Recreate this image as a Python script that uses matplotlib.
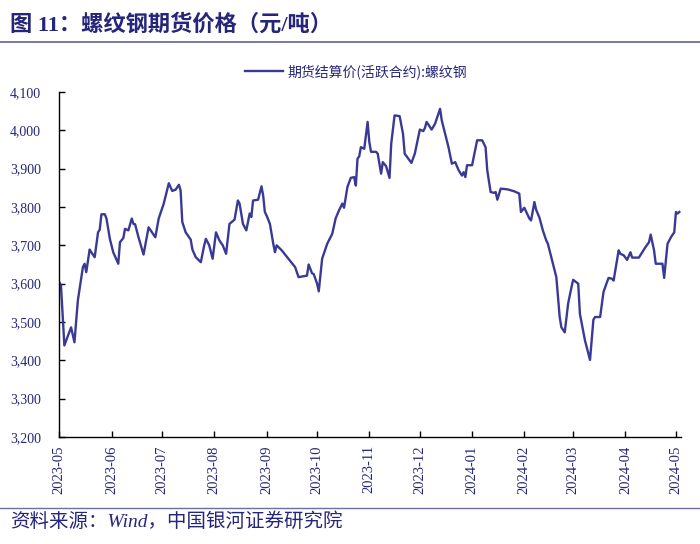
import matplotlib
matplotlib.use("Agg")
import matplotlib.pyplot as plt
import matplotlib.dates as mdates
import pandas as pd
from matplotlib.lines import Line2D

# ---- data ----
dates = [
    "2023-05-01", "2023-05-02", "2023-05-04", "2023-05-08", "2023-05-10", "2023-05-12",
    "2023-05-15", "2023-05-16", "2023-05-17", "2023-05-19", "2023-05-20", "2023-05-22",
    "2023-05-24", "2023-05-25", "2023-05-26", "2023-05-28", "2023-05-29", "2023-05-31",
    "2023-06-02", "2023-06-05", "2023-06-06", "2023-06-08", "2023-06-09", "2023-06-11",
    "2023-06-13", "2023-06-14", "2023-06-15", "2023-06-17", "2023-06-20", "2023-06-23",
    "2023-06-27", "2023-06-29", "2023-07-02", "2023-07-05", "2023-07-07", "2023-07-09",
    "2023-07-11", "2023-07-12", "2023-07-13", "2023-07-15", "2023-07-18", "2023-07-19",
    "2023-07-21", "2023-07-24", "2023-07-26", "2023-07-27", "2023-07-29", "2023-07-31",
    "2023-08-02", "2023-08-04", "2023-08-06", "2023-08-08", "2023-08-10", "2023-08-13",
    "2023-08-15", "2023-08-16", "2023-08-18", "2023-08-20", "2023-08-22", "2023-08-23",
    "2023-08-24", "2023-08-27", "2023-08-29", "2023-08-30", "2023-08-31", "2023-09-01",
    "2023-09-03", "2023-09-05", "2023-09-06", "2023-09-07", "2023-09-10", "2023-09-18",
    "2023-09-20", "2023-09-25", "2023-09-26", "2023-09-28", "2023-09-29", "2023-10-01",
    "2023-10-02", "2023-10-04", "2023-10-07", "2023-10-10", "2023-10-12", "2023-10-14",
    "2023-10-16", "2023-10-17", "2023-10-19", "2023-10-21", "2023-10-23", "2023-10-24",
    "2023-10-25", "2023-10-26", "2023-10-27", "2023-10-29", "2023-10-31", "2023-11-01",
    "2023-11-02", "2023-11-05", "2023-11-06", "2023-11-08", "2023-11-09", "2023-11-11",
    "2023-11-13", "2023-11-14", "2023-11-16", "2023-11-19", "2023-11-21", "2023-11-22",
    "2023-11-26", "2023-11-28", "2023-12-01", "2023-12-03", "2023-12-04", "2023-12-05",
    "2023-12-08", "2023-12-10", "2023-12-13", "2023-12-14", "2023-12-16", "2023-12-18",
    "2023-12-20", "2023-12-22", "2023-12-24", "2023-12-26", "2023-12-27", "2023-12-28",
    "2023-12-29", "2024-01-01", "2024-01-04", "2024-01-05", "2024-01-07", "2024-01-09",
    "2024-01-10", "2024-01-12", "2024-01-14", "2024-01-15", "2024-01-16", "2024-01-18",
    "2024-01-22", "2024-01-26", "2024-01-29", "2024-01-30", "2024-02-01", "2024-02-04",
    "2024-02-05", "2024-02-07", "2024-02-08", "2024-02-10", "2024-02-12", "2024-02-14",
    "2024-02-15", "2024-02-20", "2024-02-22", "2024-02-23", "2024-02-25", "2024-02-27",
    "2024-02-29", "2024-03-01", "2024-03-04", "2024-03-05", "2024-03-08", "2024-03-11",
    "2024-03-13", "2024-03-14", "2024-03-17", "2024-03-19", "2024-03-20", "2024-03-22",
    "2024-03-24", "2024-03-25", "2024-03-28", "2024-03-29", "2024-03-31", "2024-04-02",
    "2024-04-04", "2024-04-05", "2024-04-09", "2024-04-13", "2024-04-15", "2024-04-16",
    "2024-04-18", "2024-04-19", "2024-04-23", "2024-04-24", "2024-04-26", "2024-04-28",
    "2024-04-30", "2024-05-01", "2024-05-02", "2024-05-03",
]
prices = [
    3604, 3595, 3439, 3486, 3447, 3556,
    3643, 3652, 3630, 3689, 3682, 3669,
    3734, 3741, 3781, 3781, 3770, 3717,
    3682, 3652, 3708, 3719, 3743, 3739,
    3770, 3756, 3755, 3721, 3676, 3747,
    3721, 3770, 3809, 3862, 3842, 3845,
    3858, 3843, 3761, 3734, 3715, 3689,
    3669, 3656, 3700, 3717, 3700, 3665,
    3734, 3713, 3700, 3678, 3756, 3767,
    3817, 3809, 3756, 3739, 3783, 3774,
    3817, 3819, 3854, 3830, 3787, 3778,
    3756, 3704, 3682, 3700, 3687, 3643,
    3617, 3621, 3650, 3627, 3625, 3600,
    3580, 3665, 3704, 3730, 3770, 3791,
    3809, 3798, 3852, 3876, 3878, 3856,
    3926, 3932, 3956, 3952, 4022, 3970,
    3944, 3944, 3939, 3887, 3917, 3906,
    3876, 3965, 4039, 4037, 3991, 3939,
    3915, 3939, 4002, 3998, 4006, 4022,
    4002, 4017, 4056, 4026, 3991, 3956,
    3913, 3917, 3896, 3882, 3891, 3878,
    3909, 3909, 3974, 3974, 3974, 3956,
    3896, 3839, 3837, 3839, 3819, 3848,
    3846, 3841, 3835, 3787, 3798, 3770,
    3765, 3813, 3793, 3772, 3739, 3713,
    3704, 3617, 3513, 3486, 3473, 3548,
    3591, 3610, 3600, 3521, 3452, 3401,
    3506, 3513, 3513, 3578, 3591, 3615,
    3613, 3608, 3687, 3678, 3674, 3662,
    3682, 3668, 3668, 3696, 3708, 3728,
    3687, 3652, 3652, 3615, 3704, 3721,
    3734, 3787, 3783, 3787,
]
series_name = "期货结算价(活跃合约):螺纹钢"
title_text = "图 11：螺纹钢期货价格（元/吨）"
source_text = "资料来源：Wind，中国银河证券研究院"
y_ticks = [3200, 3300, 3400, 3500, 3600, 3700, 3800, 3900, 4000, 4100]

# ---- styling ----
NAVY = "#25257a"
LINE = "#3a3a96"
RULE = "#6e6e9c"
CJK = ["Noto Sans CJK SC", "DejaVu Sans"]
SERIF = ["Liberation Serif", "Noto Sans CJK SC"]

x = pd.to_datetime(dates)

fig = plt.figure(figsize=(7.0, 5.44), dpi=100)
ax = fig.add_axes([59.3 / 700, 1 - 437 / 544, (681 - 59.3) / 700, (437 - 92) / 544])

ax.plot(x, prices, color=LINE, lw=1.7, solid_joinstyle="round")

ax.set_ylim(3200, 4100)
ax.set_yticks(y_ticks)
ax.set_yticklabels([f"{v:,}" for v in y_ticks])
ax.set_xlim(pd.Timestamp("2023-05-01"), pd.Timestamp("2024-05-04"))
ax.xaxis.set_major_locator(mdates.MonthLocator())
ax.xaxis.set_major_formatter(mdates.DateFormatter("%Y-%m"))

for s in ["top", "right"]:
    ax.spines[s].set_visible(False)
for s in ["left", "bottom"]:
    ax.spines[s].set_color("black")
    ax.spines[s].set_linewidth(1.0)

ax.tick_params(axis="x", direction="in", length=4, width=1, color="black", pad=6,
               labelrotation=90, labelsize=10.5, labelcolor=NAVY)
ax.tick_params(axis="y", direction="in", length=4, width=1, color="black", pad=13,
               labelsize=10, labelcolor=NAVY)
for lab in ax.get_xticklabels() + ax.get_yticklabels():
    lab.set_family(SERIF)

# legend
handle = Line2D([], [], color=LINE, lw=1.7)
leg = ax.legend([handle], [series_name], loc="center",
                bbox_to_anchor=(0.509, 0.868), bbox_transform=fig.transFigure,
                frameon=False, handlelength=2.7, handletextpad=0.35,
                prop={"family": CJK, "size": 10})
for t in leg.get_texts():
    t.set_color(NAVY)

# title + rules + source
fig.text(10 / 700, 1 - 25 / 544, title_text, ha="left", va="center",
         fontsize=16, fontweight="bold", color=NAVY, family=SERIF)
fig.add_artist(Line2D([0, 1], [1 - 42 / 544, 1 - 42 / 544], color=RULE, lw=1.3,
                      transform=fig.transFigure))
fig.add_artist(Line2D([0, 1], [1 - 508 / 544, 1 - 508 / 544], color=RULE, lw=1.0,
                      transform=fig.transFigure))
fig.text(10 / 700, 1 - 522 / 544, source_text, ha="left", va="center",
         fontsize=14, style="italic", color=NAVY, family=SERIF)

fig.savefig("out.png", dpi=100, facecolor="white")
